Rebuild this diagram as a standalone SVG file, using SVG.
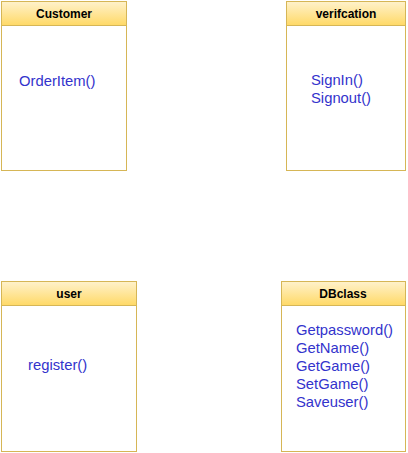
<svg xmlns="http://www.w3.org/2000/svg" width="408" height="453" viewBox="0 0 408 453">
<defs>
<linearGradient id="hdr" x1="0" y1="0" x2="0" y2="1">
<stop offset="0" stop-color="#fff2cc"/>
<stop offset="1" stop-color="#ffd966"/>
</linearGradient>
<style>
.body{fill:#ffffff;stroke:#d6b656;stroke-width:1}
.head{fill:url(#hdr);stroke:#d6b656;stroke-width:1}
.title{font-family:"Liberation Sans",Arial,sans-serif;font-size:12px;font-weight:bold;fill:#000000;text-anchor:middle}
.m{font-family:"Liberation Sans",Arial,sans-serif;font-size:14.8px;fill:#3333cc}
</style>
</defs>
<rect width="408" height="453" fill="#ffffff"/>
<g id="connectors"></g>
<g id="customer">
<rect class="body" x="1.5" y="1.5" width="125" height="169"/>
<rect class="head" x="1.5" y="1.5" width="125" height="24"/>
<text class="title" x="64" y="18">Customer</text>
<text class="m" x="19" y="86">OrderItem()</text>
</g>
<g id="verifcation">
<rect class="body" x="286.5" y="1.5" width="119" height="169"/>
<rect class="head" x="286.5" y="1.5" width="119" height="24"/>
<text class="title" x="346" y="18">verifcation</text>
<text class="m" x="311" y="85">SignIn()</text>
<text class="m" x="311" y="103">Signout()</text>
</g>
<g id="user">
<rect class="body" x="1.5" y="281.5" width="135" height="170"/>
<rect class="head" x="1.5" y="281.5" width="135" height="24"/>
<text class="title" x="69" y="298">user</text>
<text class="m" x="28" y="370">register()</text>
</g>
<g id="dbclass">
<rect class="body" x="281.5" y="281.5" width="124" height="170"/>
<rect class="head" x="281.5" y="281.5" width="124" height="24"/>
<text class="title" x="343" y="298">DBclass</text>
<text class="m" x="296" y="335">Getpassword()</text>
<text class="m" x="296" y="353">GetName()</text>
<text class="m" x="296" y="371">GetGame()</text>
<text class="m" x="296" y="389">SetGame()</text>
<text class="m" x="296" y="407">Saveuser()</text>
</g>
</svg>
